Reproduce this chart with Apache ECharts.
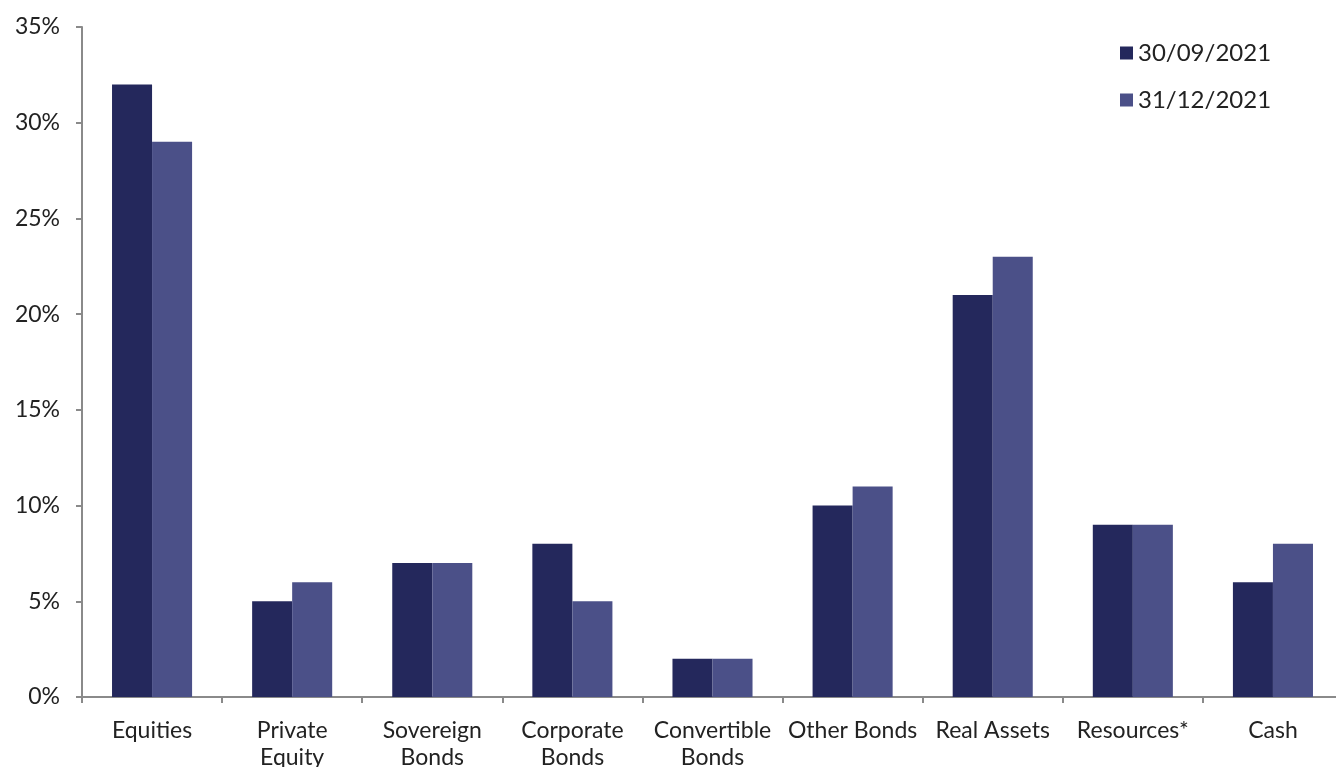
<!DOCTYPE html>
<html>
<head>
<meta charset="utf-8">
<script src="https://cdn.jsdelivr.net/npm/echarts@6/dist/echarts.min.js"></script>
<style>
html,body{margin:0;padding:0;background:#fff;}
#chart{width:1336px;height:767px;}
</style>
</head>
<body>
<div id="chart"></div>
<script>
const categories = ["Equities", "Private\nEquity", "Sovereign\nBonds", "Corporate\nBonds", "Convertible\nBonds", "Other Bonds", "Real Assets", "Resources*", "Cash"];
const seriesNames = ["30/09/2021", "31/12/2021"];
const sep2021 = [32, 5, 7, 8, 2, 10, 21, 9, 6];
const dec2021 = [29, 6, 7, 5, 2, 11, 23, 9, 8];
const yTicks = [0, 5, 10, 15, 20, 25, 30, 35];

const chart = echarts.init(document.getElementById('chart'));
const font = 'Lato, "Noto Sans", sans-serif';
chart.setOption({
  animation: false,
  backgroundColor: '#ffffff',
  grid: { left: 82, top: 27, width: 1261, height: 670, containLabel: false, outerBoundsMode: 'none' },
  legend: {
    orient: 'vertical',
    left: 1120,
    top: 41,
    padding: 0,
    itemWidth: 13,
    itemHeight: 13,
    itemGap: 23,
    icon: 'rect',
    textStyle: { fontFamily: font, fontSize: 24, color: '#222222' },
    data: seriesNames
  },
  xAxis: {
    type: 'category',
    data: categories,
    axisLine: { lineStyle: { color: '#8a8a8a', width: 2 } },
    axisTick: { show: true, length: 6, lineStyle: { color: '#8a8a8a', width: 2 } },
    axisLabel: { fontFamily: font, fontSize: 23, color: '#222222', margin: 20, lineHeight: 27, interval: 0 }
  },
  yAxis: {
    type: 'value',
    min: yTicks[0],
    max: yTicks[yTicks.length - 1],
    interval: 5,
    splitLine: { show: false },
    axisLine: { show: true, lineStyle: { color: '#8a8a8a', width: 2 } },
    axisTick: { show: true, length: 6, lineStyle: { color: '#8a8a8a', width: 2 } },
    axisLabel: { fontFamily: font, fontSize: 23, color: '#222222', margin: 22, formatter: '{value}%' }
  },
  series: [
    { name: seriesNames[0], type: 'bar', data: sep2021, barGap: '0%', barCategoryGap: '42.86%', itemStyle: { color: '#24285c' } },
    { name: seriesNames[1], type: 'bar', data: dec2021, barGap: '0%', barCategoryGap: '42.86%', itemStyle: { color: '#4b5088' } }
  ]
});
</script>
</body>
</html>
